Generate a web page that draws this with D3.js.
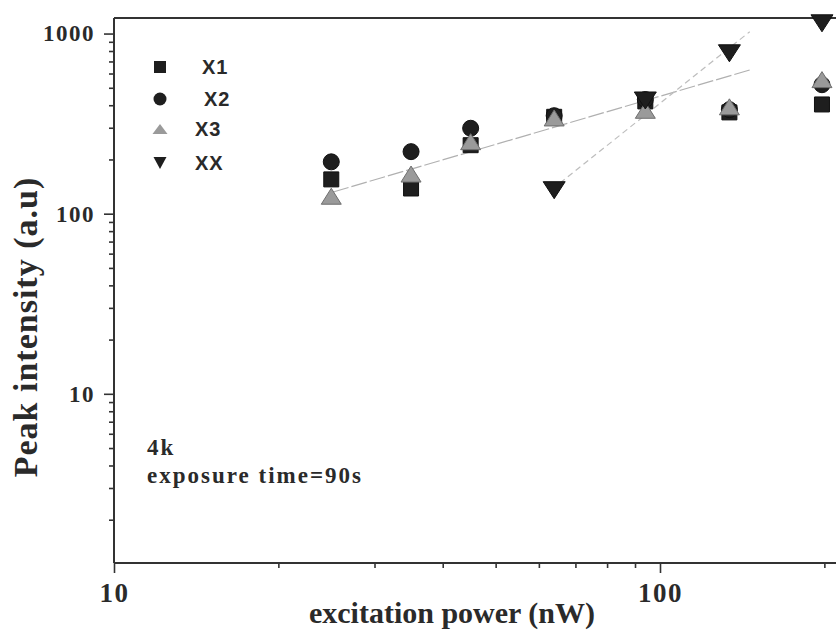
<!DOCTYPE html>
<meta charset="utf-8">
<head>
<style>
  body { margin: 0; background: #fff; }
  svg { display: block; }
  .serif { font-family: "Liberation Serif", "Times New Roman", serif; font-weight: bold; fill: #2a2a2a; }
  .sans { font-family: "Liberation Sans", Arial, sans-serif; font-weight: bold; fill: #2a2a2a; }
</style>
</head>
<body>
<script src="https://cdn.jsdelivr.net/npm/d3@7"></script>
<script>

// excitation power (nW) and peak intensities
var power = [25, 35, 45, 64, 94, 134, 198];
var x1 = [155, 138, 240, 345, 420, 365, 404];
var x2 = [194, 221, 298, 350, 430, 378, 520];
var x3 = [125, 166, 251, 340, 375, 392, 555];
var powerXX = [64, 94, 134, 198];
var xx = [135, 425, 777, 1140];

// guide lines (end points)
var fitPowerX = [25.2, 146];
var fitValX = [132, 628];
var fitPowerXX = [65.6, 146];
var fitValXX = [148, 1024];

var legendNames = ["X1", "X2", "X3", "XX"];
var yTickLabels = [10, 100, 1000];
var xTickLabels = [10, 100];

var width = 836, height = 639;
var xMin = 10, xMax = 220, yMin = 1.15, yMax = 1220;
var plotLeft = 114, plotTop = 18, plotBottom = 563;

var x = d3.scaleLog().domain([xMin, xMax])
    .range([plotLeft, plotLeft + 546 * Math.log10(xMax / xMin)]);
var y = d3.scaleLog().domain([yMin, yMax]).range([plotBottom, plotTop]);

var svg = d3.select("body").append("svg")
    .attr("width", width)
    .attr("height", height);

// minor tick values 2..9 per decade
function minors(lo, hi) {
  var out = [];
  for (var e = 0; e <= 3; e++) {
    for (var m = 2; m <= 9; m++) {
      var v = m * Math.pow(10, e);
      if (v > lo && v < hi) out.push(v);
    }
  }
  return out;
}

// y axis ticks
svg.append("g")
    .attr("transform", "translate(" + plotLeft + ",0)")
    .call(d3.axisLeft(y).tickValues(minors(yMin, yMax)).tickSize(5).tickFormat(""))
    .call(function(g) { g.select(".domain").remove(); });
var yMajor = svg.append("g")
    .attr("transform", "translate(" + plotLeft + ",0)")
    .call(d3.axisLeft(y).tickValues(yTickLabels).tickSize(10).tickPadding(9).tickFormat(d3.format("d")));
yMajor.select(".domain").remove();
yMajor.selectAll("text")
    .attr("class", "serif")
    .style("font-size", "23px")
    .style("letter-spacing", "1.5px");

// x axis ticks
svg.append("g")
    .attr("transform", "translate(0," + plotBottom + ")")
    .call(d3.axisBottom(x).tickValues(minors(xMin, xMax)).tickSize(5).tickFormat(""))
    .call(function(g) { g.select(".domain").remove(); });
var xMajor = svg.append("g")
    .attr("transform", "translate(0," + plotBottom + ")")
    .call(d3.axisBottom(x).tickValues(xTickLabels).tickSize(10).tickPadding(10).tickFormat(d3.format("d")));
xMajor.select(".domain").remove();
xMajor.selectAll("text")
    .attr("class", "serif")
    .style("font-size", "27px")
    .style("letter-spacing", "1.5px");

svg.selectAll(".tick line").attr("stroke", "#333").attr("stroke-width", 1.6);

// frame (left, bottom, top)
var frame = svg.append("g").attr("stroke", "#333").attr("stroke-width", 2).attr("fill", "none");
frame.append("line").attr("x1", plotLeft).attr("x2", plotLeft).attr("y1", plotTop).attr("y2", plotBottom);
frame.append("line").attr("x1", plotLeft).attr("x2", width).attr("y1", plotBottom).attr("y2", plotBottom);
frame.append("line").attr("x1", plotLeft).attr("x2", width).attr("y1", plotTop).attr("y2", plotTop);

// guide lines
var line = d3.line()
    .x(function(d) { return x(d[0]); })
    .y(function(d) { return y(d[1]); });

svg.append("path")
    .datum(d3.zip(fitPowerX, fitValX))
    .attr("fill", "none")
    .attr("stroke", "#b0b0b0")
    .attr("stroke-width", 1.2)
    .attr("stroke-dasharray", "16,3")
    .attr("d", line);

svg.append("path")
    .datum(d3.zip(fitPowerXX, fitValXX))
    .attr("fill", "none")
    .attr("stroke", "#bdbdbd")
    .attr("stroke-width", 1.2)
    .attr("stroke-dasharray", "6,4")
    .attr("d", line);

// marker shapes
function shape(kind, w, h) {
  var a = w / 2, b = h / 2;
  if (kind == "square") return "M" + (-a) + "," + (-b) + "H" + a + "V" + b + "H" + (-a) + "Z";
  if (kind == "circle") return "M" + (-a) + ",0A" + a + "," + b + " 0 1,0 " + a + ",0A" + a + "," + b + " 0 1,0 " + (-a) + ",0Z";
  if (kind == "up") return "M0," + (-b) + "L" + a + "," + b + "L" + (-a) + "," + b + "Z";
  return "M" + (-a) + "," + (-b) + "L" + a + "," + (-b) + "L0," + b + "Z";
}

var series = [
  {xs: power, ys: x1, kind: "square", w: 15, h: 15, fill: "#1e1e1e", stroke: "#111"},
  {xs: power, ys: x2, kind: "circle", w: 16, h: 16, fill: "#1e1e1e", stroke: "#111"},
  {xs: power, ys: x3, kind: "up", w: 20, h: 16, fill: "#9a9a9a", stroke: "#6e6e6e"},
  {xs: powerXX, ys: xx, kind: "down", w: 22, h: 17, fill: "#1e1e1e", stroke: "#111"}
];

series.forEach(function(s) {
  svg.append("g").selectAll("path")
    .data(d3.zip(s.xs, s.ys))
    .enter().append("path")
    .attr("transform", function(d) { return "translate(" + x(d[0]) + "," + y(d[1]) + ")"; })
    .attr("d", shape(s.kind, s.w, s.h))
    .attr("fill", s.fill)
    .attr("stroke", s.stroke)
    .attr("stroke-width", 1);
});

// legend
var legendShapes = [
  {kind: "square", w: 12, h: 12, fill: "#1e1e1e"},
  {kind: "circle", w: 13, h: 13, fill: "#1e1e1e"},
  {kind: "up", w: 15, h: 10, fill: "#9a9a9a"},
  {kind: "down", w: 13, h: 12, fill: "#1e1e1e"}
];
var legendRows = [67, 99, 129, 163];
var legendTextX = [202, 204, 195, 195];

legendNames.forEach(function(name, i) {
  var ls = legendShapes[i];
  svg.append("path")
    .attr("transform", "translate(160," + legendRows[i] + ")")
    .attr("d", shape(ls.kind, ls.w, ls.h))
    .attr("fill", ls.fill);
  svg.append("text")
    .attr("class", "sans")
    .attr("x", legendTextX[i])
    .attr("y", legendRows[i] + 7)
    .style("font-size", "20px")
    .style("letter-spacing", "1px")
    .text(name);
});

// annotation
svg.append("text").attr("class", "serif")
    .attr("x", 147).attr("y", 455)
    .style("font-size", "23px").style("letter-spacing", "2px")
    .text("4k");
svg.append("text").attr("class", "serif")
    .attr("x", 147).attr("y", 483)
    .style("font-size", "23px").style("letter-spacing", "2px")
    .text("exposure time=90s");

// axis titles
svg.append("text").attr("class", "serif")
    .attr("x", 452).attr("y", 623)
    .attr("text-anchor", "middle")
    .style("font-size", "30px")
    .text("excitation power (nW)");

svg.append("text").attr("class", "serif")
    .attr("transform", "translate(37,327) rotate(-90)")
    .attr("text-anchor", "middle")
    .style("font-size", "34px").style("letter-spacing", "1px")
    .text("Peak intensity (a.u)");

</script>
</body>
